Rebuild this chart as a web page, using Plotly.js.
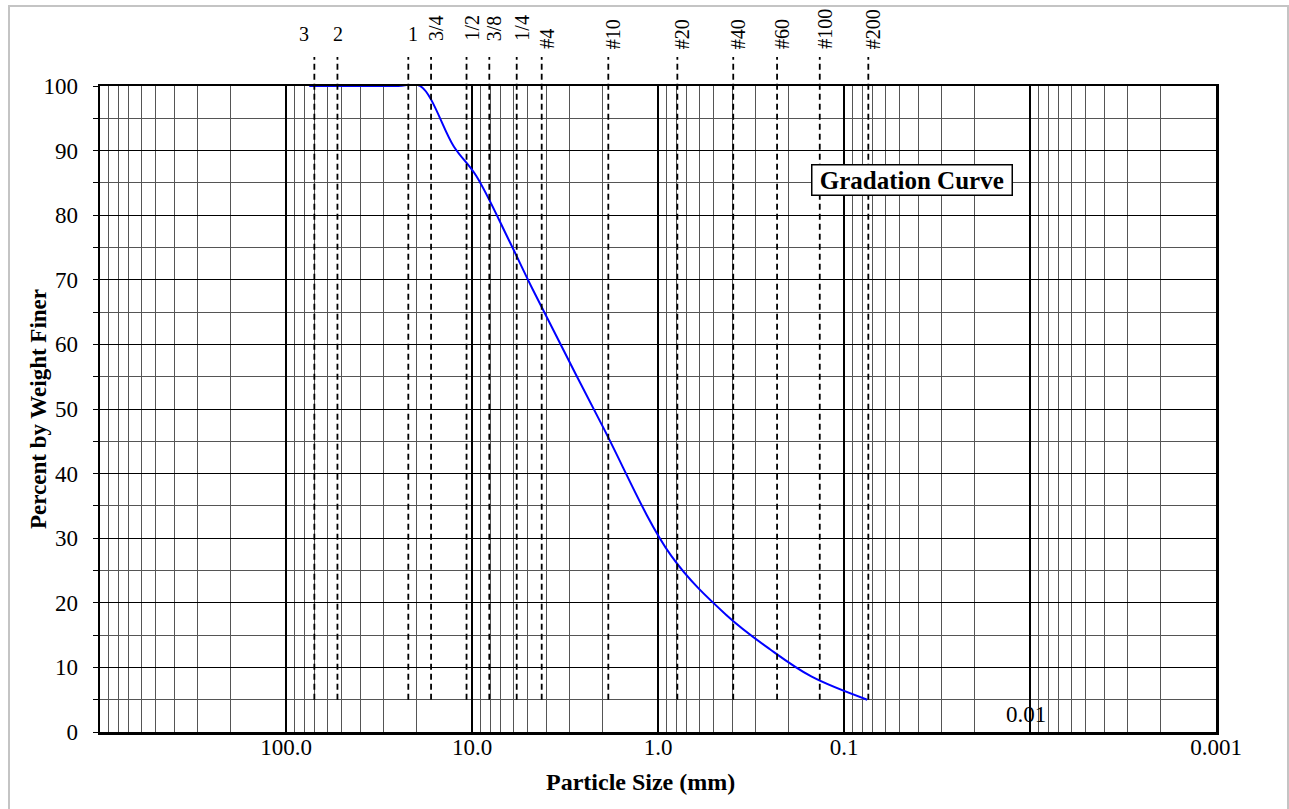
<!DOCTYPE html>
<html>
<head>
<meta charset="utf-8">
<script src="https://cdn.plot.ly/plotly-3.0.1.min.js"></script>
<style>
  html, body { margin: 0; padding: 0; background: #fff; overflow: hidden; }
  #chart { width: 1289px; height: 809px; }
  #frame { position: absolute; left: 8px; top: 5px; width: 1281px; height: 900px;
           border-left: 2px solid #c4c4c4; border-top: 2px solid #c4c4c4; border-right: 2px solid #c4c4c4;
           box-sizing: border-box; pointer-events: none; }
</style>
</head>
<body>
<div id="chart"></div>
<div id="frame"></div>
<script>
// ---------------- data ----------------
const sieveLabels = ['3', '2', '1', '3/4', '1/2', '3/8', '1/4', '#4', '#10', '#20', '#40', '#60', '#100', '#200'];
// sieve openings (mm) used by the gradation curve
const sieveSizes = [75, 50, 25, 19, 12.5, 9.5, 6.3, 4.75, 2.0, 0.85, 0.425, 0.25, 0.15, 0.075];
const percentFiner = [100, 100, 100, 100, 90.6, 86.1, 76.0, 68.7, 47.5, 27.3, 18.0, 12.8, 8.6, 5.0];
// positions (mm) where the dashed sieve marker lines are drawn in the picture
const sieveMarkerSizes = [70.4, 52.9, 22.0, 16.6, 10.7, 8.07, 5.75, 4.22, 1.85, 0.787, 0.394, 0.229, 0.135, 0.074];
const xTickVals = [1000, 100, 10, 1, 0.1, 0.01, 0.001];
const xTickText = ['', '100.0', '10.0', '1.0', '0.1', '', '0.001'];
const yTickVals = [0, 10, 20, 30, 40, 50, 60, 70, 80, 90, 100];
const insideTickLabel = { value: 0.01, text: '0.01' };
const sieveLineLimits = [5, 104.5]; // percent
const chartTitle = 'Gradation Curve';
const xTitle = 'Particle Size (mm)';
const yTitle = 'Percent by Weight Finer';

// ---------------- style ----------------
const FONT = 'Liberation Serif, Times New Roman, serif';
const yRange = [0, 100];
const xRangeLog = [3, -3];
const minorVals = [];
for (let k = -3; k < 3; k++) for (let m = 2; m <= 9; m++) minorVals.push(+(m * Math.pow(10, k)).toPrecision(3));
const yToPaper = v => (v - yRange[0]) / (yRange[1] - yRange[0]);

const shapes = sieveMarkerSizes.map(s => ({
  type: 'line', xref: 'x', yref: 'paper', x0: s, x1: s,
  y0: yToPaper(sieveLineLimits[0]), y1: yToPaper(sieveLineLimits[1]),
  line: { color: '#000', width: 1.8, dash: '6px,4px' }, layer: 'above'
}));

const labelShift = { '3': -10, '2': 1, '1': 5 };
const annotations = sieveLabels.map((lab, i) => {
  const rotated = lab.length > 1;
  const isFraction = lab.indexOf('/') >= 0;
  return {
    xref: 'x', yref: 'paper', x: Math.log10(sieveMarkerSizes[i]),
    y: rotated ? (isFraction ? 1.0666 : 1.0542) : 1.080,
    xanchor: 'center', yanchor: rotated ? 'bottom' : 'middle',
    xshift: rotated ? 5 : labelShift[lab],
    textangle: rotated ? -90 : 0,
    text: lab, showarrow: false,
    font: { family: FONT, size: 20, color: '#000' }
  };
});
annotations.push({
  xref: 'x', yref: 'y', x: Math.log10(insideTickLabel.value), y: 0,
  xanchor: 'center', yanchor: 'bottom', yshift: 3, xshift: -4,
  text: insideTickLabel.text, showarrow: false,
  font: { family: FONT, size: 23, color: '#000' }
});
annotations.push({
  xref: 'paper', yref: 'paper', x: 0.728, y: 0.854,
  xanchor: 'center', yanchor: 'middle',
  text: '&nbsp;<b>' + chartTitle + '</b>&nbsp;', showarrow: false,
  bgcolor: '#fff', bordercolor: '#000', borderwidth: 1.5, borderpad: 1,
  font: { family: FONT, size: 25, color: '#000' }
});
annotations.push({
  xref: 'paper', yref: 'paper', x: 0.484, y: -0.0774,
  xanchor: 'center', yanchor: 'middle',
  text: '<b>' + xTitle + '</b>', showarrow: false,
  font: { family: FONT, size: 24, color: '#000' }
});
annotations.push({
  xref: 'paper', yref: 'paper', x: -0.0556, y: 0.5,
  xanchor: 'center', yanchor: 'middle', textangle: -90,
  text: '<b>' + yTitle + '</b>', showarrow: false,
  font: { family: FONT, size: 23, color: '#000' }
});

const trace = {
  x: sieveSizes, y: percentFiner, type: 'scatter', mode: 'lines',
  line: { color: '#0000FF', width: 2, shape: 'spline', smoothing: 1 },
  hoverinfo: 'skip', showlegend: false
};

const layout = {
  width: 1289, height: 809,
  margin: { l: 100, r: 73, t: 86, b: 77 },
  paper_bgcolor: '#fff', plot_bgcolor: '#fff',
  showlegend: false,
  font: { family: FONT, color: '#000' },
  xaxis: {
    type: 'log', range: xRangeLog, autorange: false,
    tickmode: 'array', tickvals: xTickVals, ticktext: xTickText,
    ticks: '', showgrid: true, gridcolor: '#000', gridwidth: 2.5,
    minor: { tickmode: 'array', tickvals: minorVals, showgrid: true, gridcolor: '#555', gridwidth: 1, ticks: '' },
    showline: true, mirror: true, linecolor: '#000', linewidth: 2.5, zeroline: false,
    ticklabelstandoff: -7,
    tickfont: { family: FONT, size: 23, color: '#000' }
  },
  yaxis: {
    range: yRange, autorange: false,
    tickmode: 'array', tickvals: yTickVals,
    ticks: 'outside', ticklen: 5, tickcolor: '#000', tickwidth: 1,
    showgrid: true, gridcolor: '#000', gridwidth: 1,
    minor: { dtick: 5, tick0: 0, showgrid: true, gridcolor: '#555', gridwidth: 1, ticks: 'outside', ticklen: 5, tickcolor: '#000' },
    showline: true, mirror: true, linecolor: '#000', linewidth: 2.5, zeroline: false,
    ticklabelstandoff: 10,
    tickfont: { family: FONT, size: 23, color: '#000' }
  },
  shapes: shapes,
  annotations: annotations
};

Plotly.newPlot('chart', [trace], layout, { displayModeBar: false, staticPlot: true });
</script>
</body>
</html>
